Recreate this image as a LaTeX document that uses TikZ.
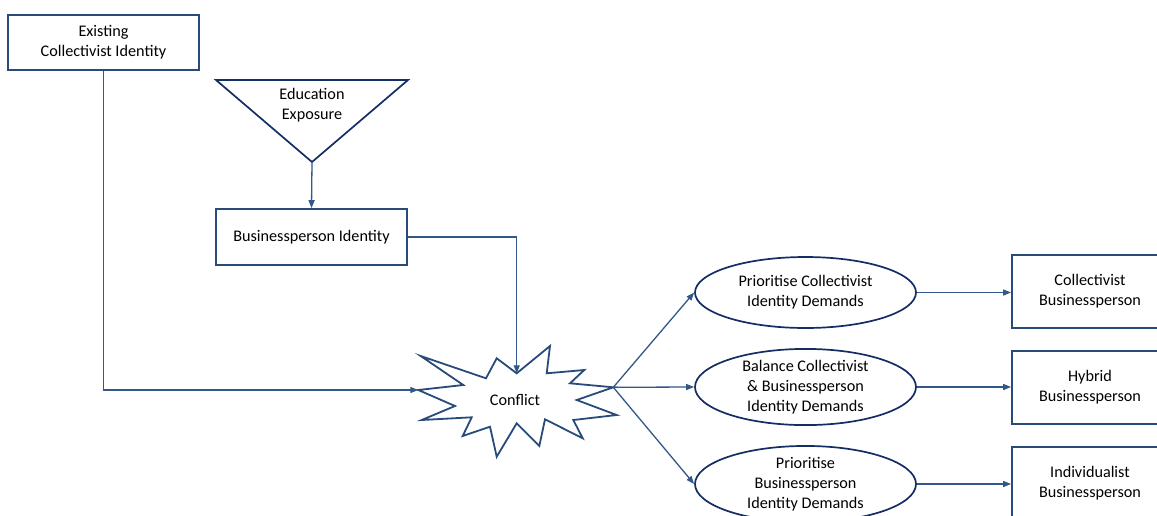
\documentclass[tikz,border=0pt]{standalone}
\usepackage{fontspec}
\setmainfont{Carlito}
\usetikzlibrary{arrows.meta, positioning, shapes.geometric}
\definecolor{boxblue}{RGB}{40,75,122}
\definecolor{navy1}{RGB}{20,45,100}
\definecolor{linkblue}{RGB}{50,88,135}
\tikzset{
  idbox/.style={draw=boxblue, line width=1.7pt, minimum width=191pt, minimum height=55pt, align=center, inner sep=0pt},
  outbox/.style={draw=boxblue, line width=1.7pt, minimum width=156pt, minimum height=73pt, align=center, inner sep=0pt},
  stratell/.style={ellipse, draw=navy1, line width=1.7pt, minimum width=221pt, minimum height=71pt, align=center, inner sep=0pt},
  link/.style={draw=linkblue, line width=1.3pt, -{Triangle[length=8pt,width=6pt]}}
}

\begin{document}
\begin{tikzpicture}[x=1pt, y=-1pt, font=\fontsize{16.2}{20}\selectfont]
  \clip (0,0) rectangle (1157,515);

  % Starting identities
  \node[idbox] (existing) at (103.5,42.5) {Existing\\Collectivist Identity};
  \draw[navy1, line width=1.7pt] (216,80) -- (408,80) -- (312,162) -- cycle;
  \coordinate (edutip) at (312,162);
  \node[align=center] (edu) at (312,105) {Education\\Exposure};
  \node[idbox, minimum width=191pt, minimum height=56pt] (busid) at (311.5,237) {Businessperson Identity};

  % Conflict
  \draw[boxblue, line width=1.8pt, line join=miter]
    (420.7,356) -- (486,378.3) -- (496.7,358.3) -- (516.7,373.3) -- (550,346)
    -- (546.7,373.3) -- (584.3,370) -- (570,383.3) -- (613.3,387.3) -- (576.7,400)
    -- (616.7,415) -- (573.3,420) -- (582.7,438.3) -- (545,419.3) -- (539.3,446)
    -- (516.7,423.3) -- (496.7,456.7) -- (490,426.7) -- (462.7,436) -- (471.7,417.3)
    -- (421.7,420) -- (455,406) -- (418.3,390) -- (463.3,385) -- cycle;
  \node (conflict) at (515,400) {Conflict};
  \coordinate (conftop) at (516.7,373.3);
  \coordinate (confleft) at (418.3,390);
  \coordinate (confright) at (613.3,387.3);

  % Strategies
  \node[stratell] (strat1) at (805.5,292.5) {Prioritise Collectivist\\Identity Demands};
  \node[stratell] (strat2) at (805.5,387) {Balance Collectivist\\\& Businessperson\\Identity Demands};
  \node[stratell] (strat3) at (805.5,484) {Prioritise\\Businessperson\\Identity Demands};

  % Outcomes
  \node[outbox] (out1) at (1090,291.5) {Collectivist\\Businessperson};
  \node[outbox] (out2) at (1090,387.5) {Hybrid\\Businessperson};
  \node[outbox] (out3) at (1090,483.5) {Individualist\\Businessperson};

  % Links
  \draw[link] (edutip) -- (busid.north);
  \draw[link] (busid.east) -| (conftop);
  \draw[link] (existing.south) |- (confleft);
  \draw[link] (confright) -- (strat1.west);
  \draw[link] (confright) -- (strat2.west);
  \draw[link] (confright) -- (strat3.west);
  \draw[link] (strat1.east) -- (out1.west |- strat1.east);
  \draw[link] (strat2.east) -- (out2.west |- strat2.east);
  \draw[link] (strat3.east) -- (out3.west |- strat3.east);
\end{tikzpicture}
\end{document}
